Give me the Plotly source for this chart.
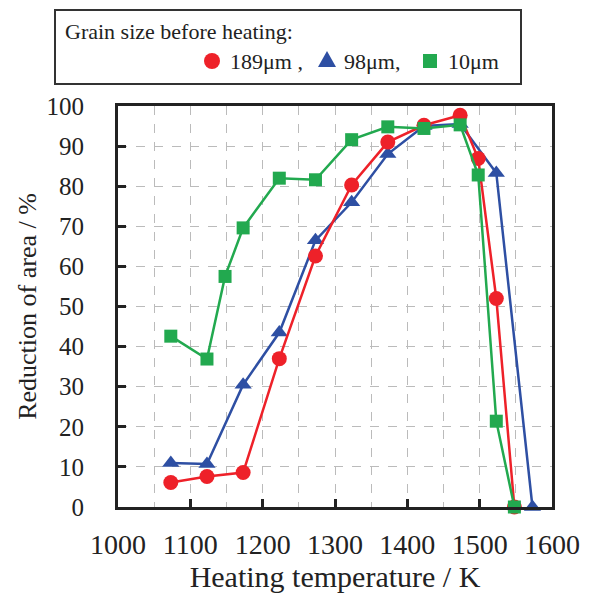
import plotly.graph_objects as go

# Data
temp_189 = [1073, 1123, 1173, 1223, 1273, 1323, 1373, 1423, 1473, 1498, 1523, 1548]
ra_189 = [6.1, 7.6, 8.6, 37.0, 62.6, 80.3, 91.0, 95.2, 97.7, 86.9, 52.0, 0.0]

temp_98 = [1073, 1123, 1173, 1223, 1273, 1323, 1373, 1423, 1473, 1523, 1573]
ra_98 = [11.0, 10.7, 30.5, 43.5, 66.5, 76.0, 88.0, 95.0, 95.5, 83.3, 0.0]

temp_10 = [1073, 1123, 1148, 1173, 1223, 1273, 1323, 1373, 1423, 1473, 1498, 1523, 1548]
ra_10 = [42.6, 36.9, 57.5, 69.6, 82.0, 81.6, 91.6, 94.8, 94.4, 95.3, 82.8, 21.4, 0.0]

x_ticks = [1000, 1100, 1200, 1300, 1400, 1500, 1600]
y_ticks = [0, 10, 20, 30, 40, 50, 60, 70, 80, 90, 100]

RED = "#EE2129"
BLUE = "#2E4FA3"
GREEN = "#22A94F"
FONT = "Liberation Serif, Times New Roman, serif"
TXT = "#222222"

fig = go.Figure()
fig.add_trace(go.Scatter(x=temp_98, y=ra_98, mode="lines+markers", name="98μm",
                         line=dict(color=BLUE, width=2.5),
                         marker=dict(symbol="triangle-up", size=15, color=BLUE),
                         cliponaxis=False))
fig.add_trace(go.Scatter(x=temp_189, y=ra_189, mode="lines+markers", name="189μm",
                         line=dict(color=RED, width=2.5),
                         marker=dict(symbol="circle", size=15, color=RED),
                         cliponaxis=False))
fig.add_trace(go.Scatter(x=temp_10, y=ra_10, mode="lines+markers", name="10μm",
                         line=dict(color=GREEN, width=2.5),
                         marker=dict(symbol="square", size=13, color=GREEN),
                         cliponaxis=False))

W, H = 592, 598
L, R, T, B = 118, 40, 106, 91
pw, ph = W - L - R, H - T - B

def px(xp):
    return (xp - L) / pw

def py(yp):
    return (H - B - yp) / ph

shapes = []
# legend box
shapes.append(dict(type="rect", xref="paper", yref="paper",
                   x0=px(55), x1=px(521), y0=py(84), y1=py(10),
                   line=dict(color="#333333", width=2), fillcolor="white", layer="above"))
# legend markers
r = 8
shapes.append(dict(type="circle", xref="paper", yref="paper",
                   x0=px(212 - r), x1=px(212 + r), y0=py(61 + r), y1=py(61 - r),
                   line=dict(width=0), fillcolor=RED, layer="above"))
tcx, tcy = 327, 60
shapes.append(dict(type="path", xref="paper", yref="paper",
                   path=f"M {px(tcx-9)},{py(tcy+7)} L {px(tcx+9)},{py(tcy+7)} L {px(tcx)},{py(tcy-9)} Z",
                   line=dict(width=0), fillcolor=BLUE, layer="above"))
s = 7
shapes.append(dict(type="rect", xref="paper", yref="paper",
                   x0=px(430 - s), x1=px(430 + s), y0=py(61 + s), y1=py(61 - s),
                   line=dict(width=0), fillcolor=GREEN, layer="above"))

ann_font = dict(family=FONT, size=22, color=TXT)
annotations = [
    dict(text="Grain size before heating:", xref="paper", yref="paper",
         x=px(63), y=py(32), xanchor="left", yanchor="middle", showarrow=False, font=ann_font),
    dict(text="189μm ,", xref="paper", yref="paper",
         x=px(228), y=py(61), xanchor="left", yanchor="middle", showarrow=False, font=ann_font),
    dict(text="98μm,", xref="paper", yref="paper",
         x=px(342), y=py(61), xanchor="left", yanchor="middle", showarrow=False, font=ann_font),
    dict(text="10μm", xref="paper", yref="paper",
         x=px(446), y=py(61), xanchor="left", yanchor="middle", showarrow=False, font=ann_font),
]

fig.update_layout(
    width=W, height=H,
    margin=dict(l=L, r=R, t=T, b=B),
    paper_bgcolor="white", plot_bgcolor="white",
    showlegend=False,
    font=dict(family=FONT, color=TXT),
    shapes=shapes, annotations=annotations,
    xaxis=dict(range=[1000, 1600], tickvals=x_ticks, ticktext=[str(v) for v in x_ticks],
               ticks="inside", ticklen=8, tickwidth=2.5, tickcolor=TXT,
               showline=True, linecolor=TXT, linewidth=3, mirror=True,
               showgrid=True, gridcolor="#BBBBBB", griddash="dash", gridwidth=1.2,
               minor=dict(dtick=50, showgrid=True, gridcolor="#BBBBBB", griddash="dash", gridwidth=1.2),
               tickfont=dict(family=FONT, size=28, color=TXT),
               ticklabelstandoff=10,
               title=dict(text="Heating temperature / K", font=dict(family=FONT, size=30, color=TXT),
                          standoff=2),
               zeroline=False),
    yaxis=dict(range=[0, 100], tickvals=y_ticks,
               ticks="inside", ticklen=8, tickwidth=2.5, tickcolor=TXT,
               showline=True, linecolor=TXT, linewidth=3, mirror=True,
               showgrid=True, gridcolor="#BBBBBB", griddash="dash", gridwidth=1.2,
               tickfont=dict(family=FONT, size=25, color=TXT),
               ticklabelstandoff=26,
               title=dict(text="Reduction of area / %", font=dict(family=FONT, size=26, color=TXT),
                          standoff=3),
               zeroline=False),
)

fig.write_html("out.html")
